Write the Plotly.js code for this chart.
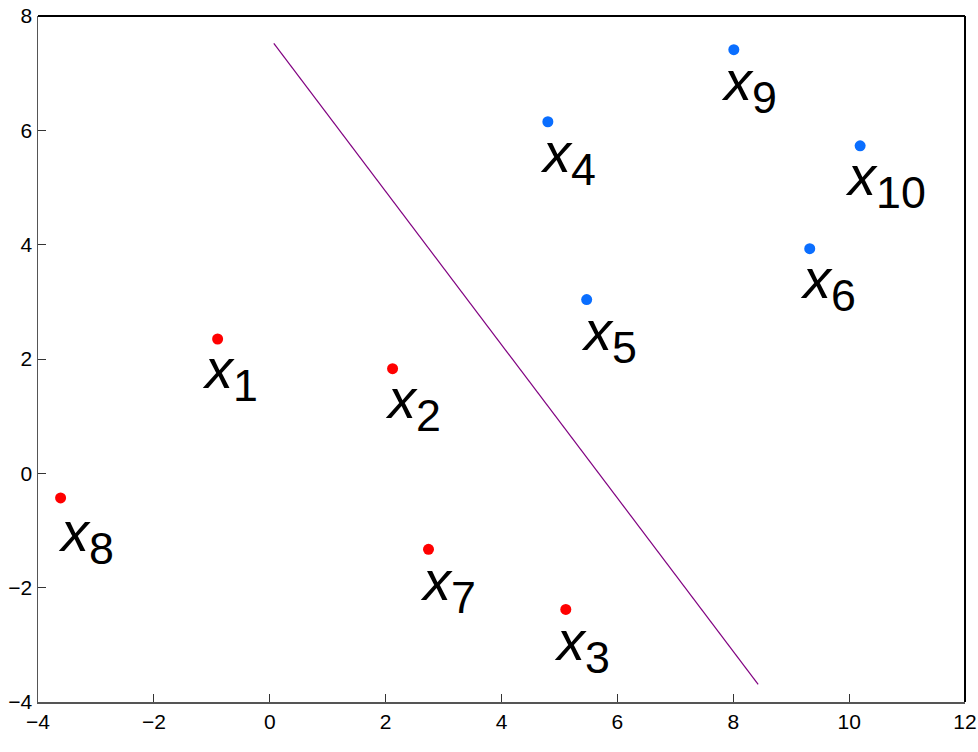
<!DOCTYPE html>
<html>
<head>
<meta charset="utf-8">
<script src="https://cdn.plot.ly/plotly-3.0.1.min.js"></script>
<style>html,body{margin:0;padding:0;background:#fff;}#chart{width:978px;height:752px;}</style>
</head>
<body>
<div id="chart"></div>
<script>
// Data
const redNames = ['1', '2', '3', '7', '8'];
const redX = [-0.90, 2.12, 5.11, 2.74, -3.61];
const redY = [2.35, 1.83, -2.38, -1.33, -0.43];
const redLabelX = [-1.12, 2.04, 4.96, 2.64, -3.61];
const redLabelY = [2.02, 1.49, -2.74, -1.69, -0.84];

const blueNames = ['4', '5', '6', '9', '10'];
const blueX = [4.80, 5.47, 9.32, 8.01, 10.19];
const blueY = [6.15, 3.04, 3.93, 7.41, 5.73];
const blueLabelX = [4.71, 5.42, 9.20, 7.84, 9.98];
const blueLabelY = [5.80, 2.69, 3.60, 7.06, 5.40];

const boundaryX = [0.07, 8.43];
const boundaryY = [7.52, -3.69];

const xTicks = [-4, -2, 0, 2, 4, 6, 8, 10, 12];
const yTicks = [-4, -2, 0, 2, 4, 6, 8];

const traces = [
  {x: boundaryX, y: boundaryY, mode: 'lines', line: {color: '#800080', width: 1.2}, hoverinfo: 'skip'},
  {x: redX, y: redY, mode: 'markers', marker: {color: '#ff0000', size: 11}},
  {x: blueX, y: blueY, mode: 'markers', marker: {color: '#0a6eff', size: 11}}
];

function makeLabels(names, lx, ly) {
  return names.map((n, i) => ({
    x: lx[i], y: ly[i], xref: 'x', yref: 'y',
    text: '<i>x</i><span style="font-size:64px"><sub>' + n + '</sub></span>',
    showarrow: false, xanchor: 'left', yanchor: 'top',
    xshift: -5, yshift: 23,
    font: {family: 'Liberation Sans, Arial, sans-serif', size: 56, color: '#000'}
  }));
}

const annotations = makeLabels(redNames, redLabelX, redLabelY)
  .concat(makeLabels(blueNames, blueLabelX, blueLabelY));

const axisCommon = {
  showgrid: false, zeroline: false, showline: true,
  linecolor: '#555555', linewidth: 1.5,
  ticks: 'inside', ticklen: 8, tickwidth: 1, tickcolor: '#333333',
  tickfont: {family: 'Liberation Sans, Arial, sans-serif', size: 21, color: '#000'},
  tickmode: 'array', mirror: false
};

const layout = {
  width: 978, height: 752,
  margin: {l: 38, r: 13, t: 16, b: 50, pad: 0},
  paper_bgcolor: '#ffffff', plot_bgcolor: '#ffffff',
  showlegend: false,
  xaxis: Object.assign({}, axisCommon, {range: [-4, 12], tickvals: xTicks, ticktext: xTicks.map(v => v < 0 ? '\u2212' + Math.abs(v) : String(v))}),
  yaxis: Object.assign({}, axisCommon, {range: [-4, 8], tickvals: yTicks, ticktext: yTicks.map(v => v < 0 ? '\u2212' + Math.abs(v) : String(v))}),
  annotations: annotations,
  shapes: [
    {type: 'line', xref: 'paper', yref: 'paper', x0: 0, x1: 1, y0: 1, y1: 1, line: {color: '#000', width: 2}},
    {type: 'line', xref: 'paper', yref: 'paper', x0: 1, x1: 1, y0: 0, y1: 1, line: {color: '#000', width: 2}}
  ]
};

Plotly.newPlot('chart', traces, layout, {displayModeBar: false, staticPlot: true});
</script>
</body>
</html>
